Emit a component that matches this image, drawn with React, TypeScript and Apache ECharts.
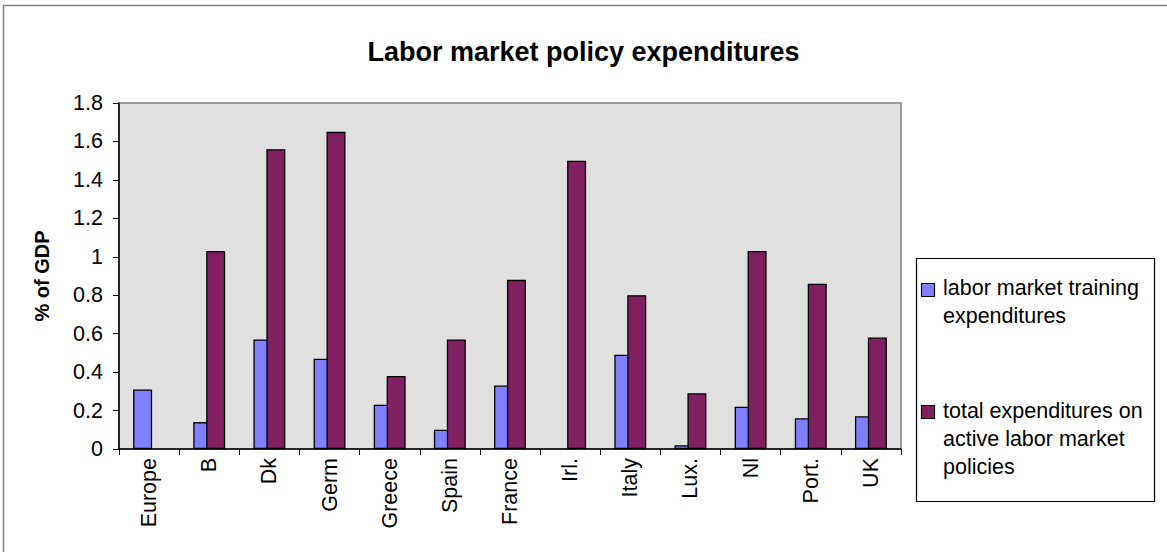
import React, { useEffect, useRef } from "react";
import * as echarts from "echarts";

const categories = ["Europe", "B", "Dk", "Germ", "Greece", "Spain", "France", "Irl.", "Italy", "Lux.", "Nl", "Port.", "UK"];
const trainingValues = [0.31, 0.14, 0.57, 0.47, 0.23, 0.1, 0.33, null, 0.49, 0.02, 0.22, 0.16, 0.17];
const totalValues = [null, 1.03, 1.56, 1.65, 0.38, 0.57, 0.88, 1.5, 0.8, 0.29, 1.03, 0.86, 0.58];
const seriesNames = ["labor market training expenditures", "total expenditures on active labor market policies"];
const legendLines = [
  ["labor market training", "expenditures"],
  ["total expenditures on", "active labor market", "policies"],
];
const yTicks = { min: 0, max: 1.8, interval: 0.2 };

const FONT = '"Liberation Sans", Arial, sans-serif';
const BLUE = "#8080FF";
const PURPLE = "#802060";

export default function App() {
  const ref = useRef<HTMLDivElement>(null);
  useEffect(() => {
    if (!ref.current) return;
    const chart = echarts.init(ref.current, null, { renderer: "svg" });
    const colors = [BLUE, PURPLE];
    const legendTops = [274, 397];
    const iconTops = [283, 405];
    const graphic: any[] = [
      {
        type: "rect",
        shape: { x: 3.5, y: 5.5, width: 1300, height: 700 },
        style: { fill: "none", stroke: "#808080", lineWidth: 1.5 },
        silent: true,
      },
      {
        type: "rect",
        shape: { x: 916.5, y: 258.5, width: 238, height: 243 },
        style: { fill: "#ffffff", stroke: "#000000", lineWidth: 1.2 },
        silent: true,
      },
    ];
    legendLines.forEach((lines, i) => {
      graphic.push({
        type: "rect",
        shape: { x: 921.5, y: iconTops[i] + 0.5, width: 13, height: 13 },
        style: { fill: colors[i], stroke: "#000000", lineWidth: 1.2 },
        silent: true,
      });
      graphic.push({
        type: "text",
        x: 943,
        y: legendTops[i],
        style: {
          text: lines.join("\n"),
          fill: "#000000",
          font: `21.5px ${FONT}`,
          lineHeight: 28,
          verticalAlign: "top",
          align: "left",
        },
        silent: true,
      });
    });

    chart.setOption({
      animation: false,
      backgroundColor: "#ffffff",
      textStyle: { fontFamily: FONT },
      title: {
        text: "Labor market policy expenditures",
        left: "center",
        top: 38,
        padding: 0,
        textStyle: { fontSize: 27, fontWeight: "bold", color: "#000000", fontFamily: FONT },
      },
      grid: {
        left: 119,
        top: 103,
        width: 782,
        height: 346,
        show: true,
        backgroundColor: "#E0E0E0",
        borderColor: "#808080",
        borderWidth: 1.5,
      },
      xAxis: {
        type: "category",
        data: categories,
        axisLine: { lineStyle: { color: "#000000", width: 1.5 } },
        axisTick: { show: true, length: 6, inside: false, alignWithLabel: false, lineStyle: { color: "#000000", width: 1 } },
        axisLabel: { rotate: 90, margin: 9, fontSize: 21.5, color: "#000000", fontFamily: FONT, interval: 0 },
        splitLine: { show: false },
      },
      yAxis: {
        type: "value",
        min: yTicks.min,
        max: yTicks.max,
        interval: yTicks.interval,
        name: "% of GDP",
        nameLocation: "middle",
        nameRotate: 90,
        nameGap: 67,
        nameTextStyle: { fontSize: 20, fontWeight: "bold", color: "#000000", fontFamily: FONT },
        axisLine: { show: true, lineStyle: { color: "#000000", width: 1.5 } },
        axisTick: { show: true, length: 6, lineStyle: { color: "#000000", width: 1 } },
        axisLabel: {
          margin: 16,
          fontSize: 21.5,
          color: "#000000",
          fontFamily: FONT,
          formatter: (v: number) => String(parseFloat(v.toFixed(1))),
        },
        splitLine: { show: false },
      },
      series: [
        {
          name: seriesNames[0],
          type: "bar",
          data: trainingValues,
          barWidth: 19,
          barGap: "-32%",
          itemStyle: { color: BLUE, borderColor: "#000000", borderWidth: 1.3 },
        },
        {
          name: seriesNames[1],
          type: "bar",
          data: totalValues,
          barWidth: 19,
          barGap: "-32%",
          itemStyle: { color: PURPLE, borderColor: "#000000", borderWidth: 1.3 },
        },
      ],
      graphic,
    });
    return () => chart.dispose();
  }, []);
  return <div ref={ref} style={{ position: "fixed", left: 0, top: 0, width: 1167, height: 552 }} />;
}
